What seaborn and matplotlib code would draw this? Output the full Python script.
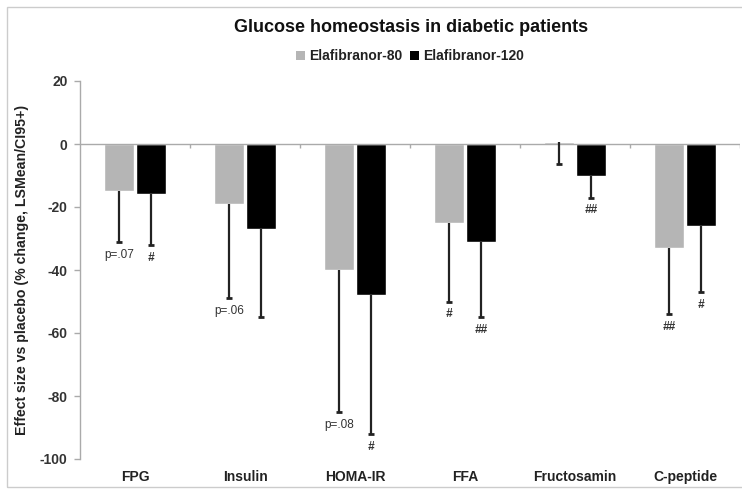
import matplotlib
matplotlib.use("Agg")
import matplotlib.pyplot as plt
from matplotlib.patches import Patch, Rectangle
import numpy as np
import pandas as pd
import seaborn as sns

# Data
categories = ["FPG", "Insulin", "HOMA-IR", "FFA", "Fructosamin", "C-peptide"]
groups = ["Elafibranor-80", "Elafibranor-120"]
mean_80 = [-15, -19, -40, -25, 0.5, -33]
mean_120 = [-16, -27, -48, -31, -10, -26]
ci_low_80 = [-31, -49, -85, -50, -6.5, -54]
ci_low_120 = [-32, -55, -92, -55, -17, -47]
notes_80 = ["p=.07", "p=.06", "p=.08", "#", "", "##"]
notes_120 = ["#", "", "#", "##", "##", "#"]
yticks = [-100, -80, -60, -40, -20, 0, 20]

colors = ["#b5b5b5", "#000000"]

df = pd.DataFrame({
    "measure": categories * 2,
    "group": [groups[0]] * len(categories) + [groups[1]] * len(categories),
    "value": mean_80 + mean_120,
})

sns.set_style("white")
plt.rcParams["font.family"] = ["Liberation Sans", "DejaVu Sans"]

fig = plt.figure(figsize=(7.42, 4.91), dpi=100)
ax = fig.add_axes([80 / 742, 32 / 491, 660 / 742, 378 / 491])

sns.barplot(data=df, x="measure", y="value", hue="group", order=categories,
            hue_order=groups, palette=colors, width=0.58, gap=0.06,
            errorbar=None, legend=False, ax=ax)

# One-sided (downward) error bars, cap only at the lower end, plus notes
lows = [ci_low_80, ci_low_120]
notes = [notes_80, notes_120]
bar_groups = list(ax.containers)
for k, cont in enumerate(bar_groups):
    for i, bar in enumerate(cont):
        x = bar.get_x() + bar.get_width() / 2
        y = bar.get_height()
        low = lows[k][i]
        ax.vlines(x, low, y, color="#222222", lw=1.6, zorder=3)
        ax.plot([x], [low], marker="_", ms=5, mew=2, color="#222222", zorder=3)
        if notes[k][i]:
            ax.text(x, low - 2.2, notes[k][i], ha="center", va="top",
                    fontsize=8.5, color="#333333",
                    fontweight="bold" if "#" in notes[k][i] else "normal",
                    style="italic" if "#" in notes[k][i] else "normal")

# Excel-like zero axis with ticks between categories
ax.axhline(0, color="#aaaaaa", lw=1, zorder=1)
ax.vlines(np.arange(len(categories)) + 0.5, -1.3, 0, color="#aaaaaa", lw=1)

ax.set_xlim(-0.5, len(categories) - 0.5)
ax.set_ylim(-100, 20)
ax.set_yticks(yticks)
ax.set_yticklabels([str(t) for t in yticks], fontweight="bold", fontsize=10, color="#333333")
ax.set_xticks(range(len(categories)))
ax.set_xticklabels(categories, fontweight="bold", fontsize=10, color="#222222")
ax.tick_params(axis="x", length=0, pad=8)
ax.tick_params(axis="y", length=4, width=1, color="#aaaaaa", direction="out", left=True, pad=5)

for s in ["top", "right", "bottom"]:
    ax.spines[s].set_visible(False)
ax.spines["left"].set_color("#aaaaaa")
ax.spines["left"].set_linewidth(1)

ax.set_xlabel("")
ax.set_ylabel("Effect size vs placebo (% change, LSMean/CI95+)", fontweight="bold",
              fontsize=10.2, color="#222222")
ax.yaxis.set_label_coords(-0.077, 0.5)

fig.text(411 / 742, 1 - 27 / 491, "Glucose homeostasis in diabetic patients",
         ha="center", va="center", fontsize=13, fontweight="bold", color="#111111")

handles = [Patch(facecolor=c, edgecolor="none") for c in colors]
leg = ax.legend(handles, groups, loc="center", bbox_to_anchor=(0.5, 1.066), ncol=2,
                frameon=False, handlelength=0.6, handleheight=0.6, handletextpad=0.3,
                columnspacing=0.6, prop={"weight": "bold", "size": 10})
for t in leg.get_texts():
    t.set_color("#222222")

# light outer frame of the chart area
fig.patches.append(Rectangle((7 / 742, 4 / 491), 740 / 742, 480 / 491,
                             transform=fig.transFigure, fill=False,
                             edgecolor="#cccccc", lw=1))

fig.savefig("out.png", dpi=100)
